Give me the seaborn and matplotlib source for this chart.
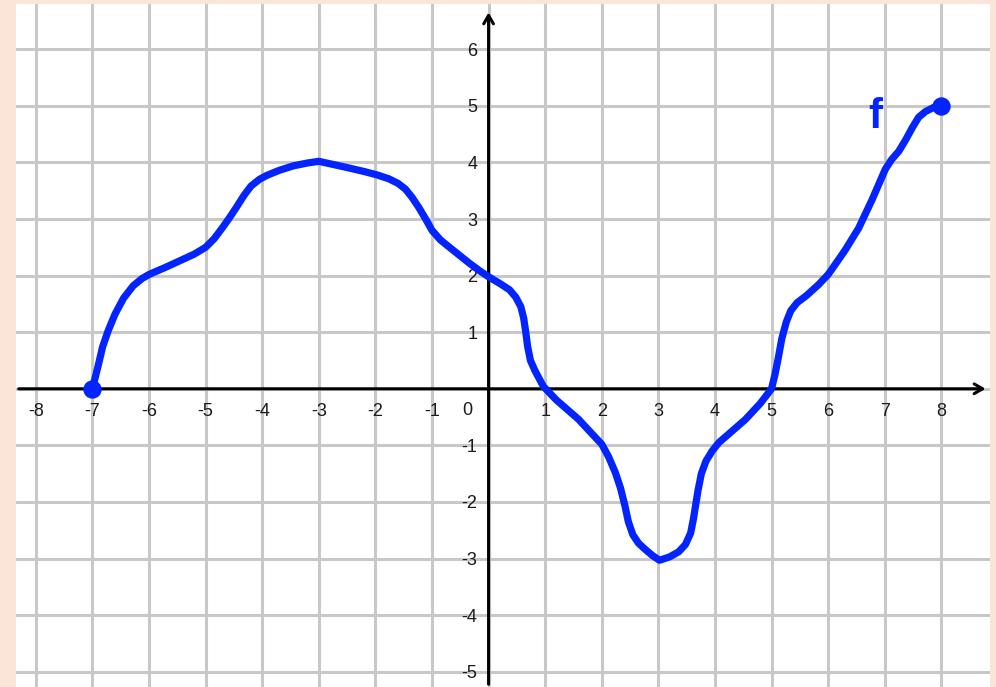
import matplotlib
matplotlib.use("Agg")
import matplotlib.pyplot as plt
import seaborn as sns

x_vals = [-7, -6.9, -6.82, -6.72, -6.6, -6.45, -6.28, -6.12, -6.0,
          -5.7, -5.46, -5.2, -5.0,
          -4.85, -4.7, -4.58, -4.46, -4.32, -4.2, -4.05, -3.92, -3.7, -3.45, -3.2, -3.0,
          -2.5, -2.2, -1.97, -1.76, -1.6, -1.47, -1.35, -1.23, -1.1, -1.0, -0.85, -0.64,
          -0.34, -0.15, 0.0,
          0.2, 0.37, 0.48, 0.57, 0.62, 0.66, 0.69, 0.74, 0.82, 0.9, 0.97, 1.2, 1.59, 2.0,
          2.12, 2.24, 2.33, 2.41, 2.47, 2.55, 2.65, 2.77, 2.9, 3.02, 3.2, 3.36, 3.48, 3.57,
          3.62, 3.66, 3.7, 3.76, 3.84, 3.95, 4.07, 4.3, 4.54, 4.8, 5.0,
          5.06, 5.12, 5.18, 5.26, 5.34, 5.45, 5.62, 5.83, 6.0, 6.12, 6.3, 6.54, 6.78, 7.01,
          7.12, 7.25, 7.37, 7.49, 7.6, 7.72, 7.86, 8.0]
y_vals = [0, 0.4, 0.74, 1.03, 1.32, 1.6, 1.82, 1.95, 2.02,
          2.15, 2.26, 2.38, 2.5,
          2.65, 2.85, 3.02, 3.2, 3.42, 3.58, 3.7, 3.77, 3.86, 3.94, 3.99, 4.02,
          3.91, 3.84, 3.78, 3.71, 3.63, 3.53, 3.38, 3.2, 2.98, 2.8, 2.63, 2.46,
          2.22, 2.08, 1.98,
          1.86, 1.75, 1.62, 1.45, 1.25, 0.98, 0.75, 0.5, 0.32, 0.17, 0.04, -0.2, -0.54, -0.98,
          -1.2, -1.48, -1.75, -2.07, -2.35, -2.58, -2.73, -2.84, -2.95, -3.03, -2.97, -2.88, -2.75, -2.55,
          -2.3, -2.05, -1.8, -1.5, -1.28, -1.1, -0.95, -0.75, -0.54, -0.26, 0.0,
          0.25, 0.55, 0.88, 1.18, 1.38, 1.52, 1.65, 1.84, 2.02, 2.19, 2.45, 2.84, 3.35, 3.88,
          4.05, 4.2, 4.4, 4.62, 4.8, 4.9, 4.97, 5.0]
end_x = [-7, 8]
end_y = [0, 5]

x_ticks = [-8, -7, -6, -5, -4, -3, -2, -1, 1, 2, 3, 4, 5, 6, 7, 8]
y_ticks = [-5, -4, -3, -2, -1, 1, 2, 3, 4, 5, 6]

blue = "#0424ff"
label_color = "#1a1a1a"

sns.set_style("white")
plt.rcParams['font.family'] = ['Liberation Sans', 'DejaVu Sans']

fig = plt.figure(figsize=(9.96, 6.87), dpi=100, facecolor="#fae5d8")
ax = fig.add_axes([16 / 996, 0, 974 / 996, 683 / 687])
ax.set_facecolor("white")
ax.set_xlim(-8.35, 8.86)
ax.set_ylim(-5.27, 6.80)

# integer grid
for v in range(-8, 9):
    ax.axvline(v, color="#c8c8c8", lw=2.2, zorder=0)
for v in range(-5, 7):
    ax.axhline(v, color="#c8c8c8", lw=2.2, zorder=0)

# axes through the origin, with arrow heads
for s in ["top", "right"]:
    ax.spines[s].set_visible(False)
ax.spines["left"].set_position(("data", 0))
ax.spines["bottom"].set_position(("data", 0))
ax.spines["left"].set_visible(False)
ax.spines["bottom"].set_visible(False)
ax.annotate("", xy=(8.83, 0), xytext=(-8.35, 0),
            arrowprops=dict(arrowstyle="->,head_length=0.6,head_width=0.35", lw=2.2, color="black"),
            zorder=2)
ax.annotate("", xy=(0, 6.70), xytext=(0, -5.27),
            arrowprops=dict(arrowstyle="->,head_length=0.6,head_width=0.35", lw=2.2, color="black"),
            zorder=2)

ax.set_xticks(x_ticks)
ax.set_xticklabels([str(t) for t in x_ticks])
ax.set_yticks(y_ticks)
ax.set_yticklabels([str(t) for t in y_ticks])
ax.tick_params(axis="x", length=0, pad=10, labelsize=13, labelcolor=label_color)
ax.tick_params(axis="y", length=0, pad=8, labelsize=13, labelcolor=label_color)
ax.text(-0.37, -0.39, "0", ha="center", va="center", fontsize=13, color=label_color)

sns.lineplot(x=x_vals, y=y_vals, sort=False, estimator=None, color=blue, lw=5.2,
             ax=ax, zorder=3, solid_capstyle="round", solid_joinstyle="round")
sns.scatterplot(x=end_x, y=end_y, color=blue, s=150, edgecolor=blue, ax=ax, zorder=4)

ax.text(6.83, 4.8, "f", color=blue, fontsize=30, fontweight="bold", ha="center", va="center")

fig.savefig("out.png", dpi=100, facecolor=fig.get_facecolor())
